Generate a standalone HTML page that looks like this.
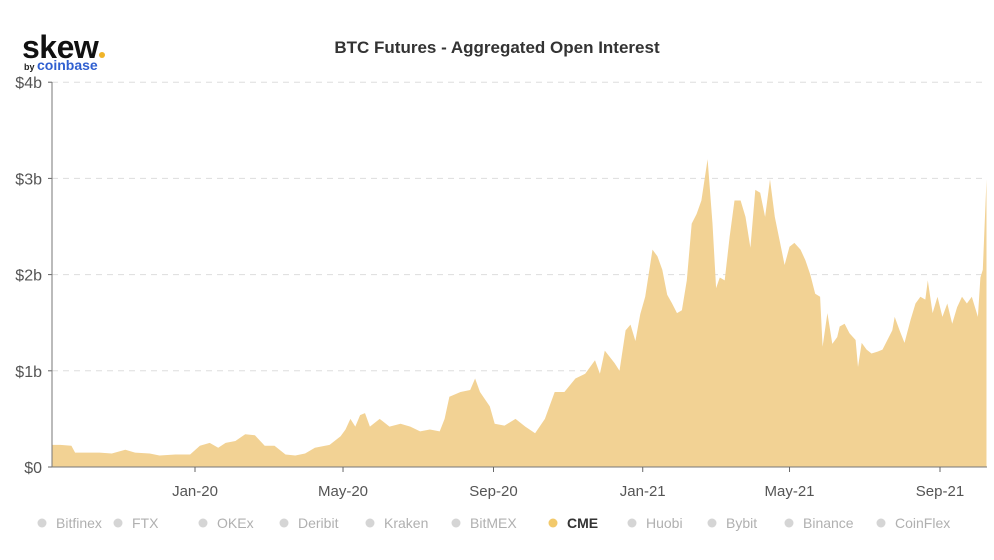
<!DOCTYPE html>
<html><head><meta charset="utf-8"><style>
body{margin:0;background:#fff;font-family:"Liberation Sans",sans-serif;}
svg text{font-family:"Liberation Sans",sans-serif;}
</style></head><body>
<svg id="chart" width="994" height="555" viewBox="0 0 994 555" xmlns="http://www.w3.org/2000/svg">
<g>
<text x="22" y="58" font-size="32" font-weight="bold" fill="#111" letter-spacing="-0.5">skew</text>
<circle cx="102" cy="55" r="3" fill="#f0b429"/>
<text x="24" y="70" font-size="9" font-weight="bold" fill="#222">by</text>
<text x="37" y="70" font-size="14" font-weight="bold" fill="#2f5fd0">coinbase</text>
</g>
<text x="497" y="53" text-anchor="middle" font-size="17" font-weight="bold" fill="#333">BTC Futures - Aggregated Open Interest</text>
<g id="grid"></g><g id="area"></g><g id="axes"></g><g id="legend"></g>
</svg>
<script>
const days=[-117,-110,-101,-98,-86,-78,-68,-57,-49,-37,-29,-16,-4,4,12,19,25,33,41,49,57,65,74,82,90,98,110,119,123,127,131,135,139,143,151,159,168,176,184,192,200,204,208,217,225,229,233,241,245,253,262,270,278,286,294,302,311,319,327,331,335,343,347,352,356,360,364,368,374,378,382,386,390,394,398,402,406,410,414,419,423,426,429,433,437,441,446,450,454,458,462,466,470,474,478,482,486,490,495,499,503,507,511,513,517,521,525,527,531,535,540,542,545,549,553,558,562,566,570,572,576,580,585,589,593,597,599,603,607,611,615,619,623,627,631,635,640,642,644,647];
const oiValues=[0.23,0.23,0.22,0.15,0.15,0.15,0.14,0.18,0.15,0.14,0.12,0.13,0.13,0.22,0.25,0.2,0.25,0.27,0.34,0.33,0.22,0.22,0.13,0.12,0.14,0.2,0.23,0.32,0.39,0.5,0.42,0.54,0.56,0.42,0.5,0.42,0.45,0.42,0.37,0.39,0.37,0.5,0.73,0.78,0.8,0.92,0.78,0.63,0.45,0.43,0.5,0.42,0.35,0.5,0.78,0.78,0.92,0.97,1.11,0.97,1.21,1.08,1.0,1.42,1.48,1.31,1.59,1.77,2.26,2.19,2.05,1.79,1.7,1.6,1.63,1.94,2.53,2.63,2.77,3.2,2.53,1.86,1.97,1.94,2.39,2.77,2.77,2.6,2.28,2.88,2.85,2.6,2.99,2.6,2.35,2.1,2.29,2.33,2.26,2.15,2.0,1.8,1.77,1.25,1.6,1.28,1.35,1.46,1.49,1.39,1.32,1.04,1.29,1.22,1.18,1.2,1.22,1.32,1.42,1.56,1.42,1.29,1.53,1.7,1.77,1.74,1.94,1.6,1.77,1.56,1.7,1.49,1.66,1.77,1.7,1.77,1.56,1.97,2.05,2.99];
const yTicks=[0,1,2,3,4];
const yTickLabels=["$0","$1b","$2b","$3b","$4b"];
const xTickDays=[0,121,244,366,486,609];
const xTickLabels=["Jan-20","May-20","Sep-20","Jan-21","May-21","Sep-21"];
const legendNames=["Bitfinex","FTX","OKEx","Deribit","Kraken","BitMEX","CME","Huobi","Bybit","Binance","CoinFlex"];
const activeSeries="CME";

const NS="http://www.w3.org/2000/svg";
const X0=52,X1=987,Y0=467,PXB=96.2;
function xs(d){return 195+d*1.2233;}
function ys(v){return Y0-v*PXB;}
function mk(tag,attrs,parent){const e=document.createElementNS(NS,tag);for(const k in attrs)e.setAttribute(k,attrs[k]);parent.appendChild(e);return e;}
const grid=document.getElementById('grid'),axes=document.getElementById('axes'),area=document.getElementById('area'),legend=document.getElementById('legend');
yTicks.forEach((t,i)=>{
  if(t>0){const l=mk('line',{x1:X0,x2:X1,y1:ys(t),y2:ys(t),stroke:'#ddd','stroke-dasharray':'6,5'},grid);
  
  }
  const tk=mk('line',{x1:X0-4,x2:X0,y1:ys(t),y2:ys(t),stroke:'#666'},axes);
  
  
  const tx=mk('text',{x:X0-10,y:ys(t)+6,'text-anchor':'end','font-size':16,fill:'#555'},axes);
  tx.textContent=yTickLabels[i];
  
  
});
let d='M'+xs(days[0])+','+Y0;
days.forEach((dd,i)=>{d+=' L'+xs(dd).toFixed(1)+','+ys(oiValues[i]).toFixed(1);});
d+=' L'+xs(days[days.length-1])+','+Y0+' Z';
const p=mk('path',{d:d,fill:'#f2d294'},area);


const ya=mk('line',{x1:X0,x2:X0,y1:82,y2:Y0,stroke:'#777'},axes);


const xa=mk('line',{x1:X0,x2:X1,y1:Y0,y2:Y0,stroke:'#777'},axes);


xTickDays.forEach((t,i)=>{
  const tk=mk('line',{x1:xs(t),x2:xs(t),y1:Y0,y2:Y0+5,stroke:'#666'},axes);
  
  
  const tx=mk('text',{x:xs(t),y:496,'text-anchor':'middle','font-size':15,fill:'#555'},axes);
  tx.textContent=xTickLabels[i];
  
  
});
const legX=[42,118,203,284,370,456,553,632,712,789,881];
legendNames.forEach((n,i)=>{
  const on=n===activeSeries;
  const g=mk('g',{},legend);
  
  
  mk('circle',{cx:legX[i],cy:523,r:4.5,fill:on?'#f2c96b':'#d5d5d5'},g);
  const t=mk('text',{x:legX[i]+14,y:528,'font-size':14,fill:on?'#333':'#b0b0b0','font-weight':on?'bold':'normal'},g);
  t.textContent=n;
});
</script>
</body></html>
